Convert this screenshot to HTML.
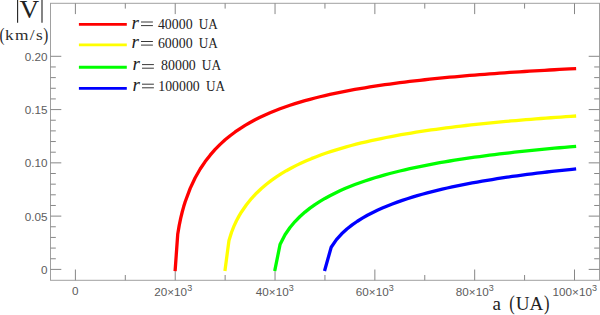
<!DOCTYPE html>
<html><head><meta charset="utf-8">
<style>
html,body{margin:0;padding:0;background:#fff;}
body{width:600px;height:315px;overflow:hidden;position:relative;}
svg{position:absolute;left:0;top:0;display:block;}
.sans{font-family:"Liberation Sans",sans-serif;font-size:11.7px;fill:#5c5c5c;}
.serif{font-family:"Liberation Serif",serif;fill:#222;}
</style></head><body>
<svg width="600" height="315" viewBox="0 0 600 315">
<rect x="50.5" y="3.3" width="549.0" height="277.0" fill="none" stroke="#a0a0a0" stroke-width="1"/>
<path d="M75.40 280.3 v-10.8 M75.40 3.3 v10.8 M125.31 280.3 v-5.3 M125.31 3.3 v5.3 M175.22 280.3 v-10.8 M175.22 3.3 v10.8 M225.13 280.3 v-5.3 M225.13 3.3 v5.3 M275.04 280.3 v-10.8 M275.04 3.3 v10.8 M324.95 280.3 v-5.3 M324.95 3.3 v5.3 M374.86 280.3 v-10.8 M374.86 3.3 v10.8 M424.77 280.3 v-5.3 M424.77 3.3 v5.3 M474.68 280.3 v-10.8 M474.68 3.3 v10.8 M524.59 280.3 v-5.3 M524.59 3.3 v5.3 M574.50 280.3 v-10.8 M574.50 3.3 v10.8 M50.5 269.40 h10.8 M599.5 269.40 h-10.8 M50.5 258.75 h5.3 M599.5 258.75 h-5.3 M50.5 248.09 h5.3 M599.5 248.09 h-5.3 M50.5 237.43 h5.3 M599.5 237.43 h-5.3 M50.5 226.78 h5.3 M599.5 226.78 h-5.3 M50.5 216.12 h10.8 M599.5 216.12 h-10.8 M50.5 205.47 h5.3 M599.5 205.47 h-5.3 M50.5 194.81 h5.3 M599.5 194.81 h-5.3 M50.5 184.16 h5.3 M599.5 184.16 h-5.3 M50.5 173.50 h5.3 M599.5 173.50 h-5.3 M50.5 162.85 h10.8 M599.5 162.85 h-10.8 M50.5 152.19 h5.3 M599.5 152.19 h-5.3 M50.5 141.54 h5.3 M599.5 141.54 h-5.3 M50.5 130.88 h5.3 M599.5 130.88 h-5.3 M50.5 120.23 h5.3 M599.5 120.23 h-5.3 M50.5 109.58 h10.8 M599.5 109.58 h-10.8 M50.5 98.92 h5.3 M599.5 98.92 h-5.3 M50.5 88.27 h5.3 M599.5 88.27 h-5.3 M50.5 77.61 h5.3 M599.5 77.61 h-5.3 M50.5 66.96 h5.3 M599.5 66.96 h-5.3 M50.5 56.30 h10.8 M599.5 56.30 h-10.8" stroke="#878787" stroke-width="1" fill="none"/>
<g fill="none" stroke-width="3.3" stroke-linejoin="round" stroke-linecap="square">
<path d="M175.22 269.40 L177.72 234.35 L179.21 225.39 L180.71 218.16 L182.21 212.00 L183.70 206.59 L185.20 201.74 L190.19 188.36 L195.18 177.79 L200.18 169.04 L205.17 161.60 L210.16 155.14 L215.15 149.45 L220.14 144.39 L225.13 139.84 L230.12 135.73 L235.11 131.98 L240.10 128.56 L245.09 125.40 L250.09 122.50 L255.08 119.80 L260.07 117.29 L265.06 114.96 L270.05 112.77 L275.04 110.72 L280.03 108.80 L285.02 106.99 L290.01 105.28 L295.00 103.67 L300.00 102.14 L304.99 100.69 L309.98 99.32 L314.97 98.01 L319.96 96.77 L324.95 95.58 L329.94 94.45 L334.93 93.37 L339.92 92.33 L344.91 91.34 L349.91 90.39 L354.90 89.48 L359.89 88.60 L364.88 87.76 L369.87 86.96 L374.86 86.18 L379.85 85.43 L384.84 84.71 L389.83 84.01 L394.82 83.34 L399.82 82.69 L404.81 82.06 L409.80 81.45 L414.79 80.87 L419.78 80.30 L424.77 79.75 L429.76 79.21 L434.75 78.70 L439.74 78.19 L444.73 77.71 L449.73 77.23 L454.72 76.78 L459.71 76.33 L464.70 75.90 L469.69 75.47 L474.68 75.06 L479.67 74.66 L484.66 74.27 L489.65 73.90 L494.64 73.53 L499.64 73.17 L504.63 72.82 L509.62 72.47 L514.61 72.14 L519.60 71.81 L524.59 71.50 L529.58 71.19 L534.57 70.88 L539.56 70.59 L544.55 70.30 L549.55 70.01 L554.54 69.74 L559.53 69.47 L564.52 69.20 L569.51 68.94 L574.50 68.69" stroke="#ff0000"/>
<path d="M225.13 269.40 L228.97 240.42 L231.47 232.48 L233.96 226.15 L236.46 220.80 L238.96 216.13 L241.45 211.96 L246.44 204.73 L251.43 198.58 L256.42 193.22 L261.41 188.48 L266.41 184.23 L271.40 180.38 L276.39 176.87 L281.38 173.65 L286.37 170.68 L291.36 167.93 L296.35 165.38 L301.34 162.99 L306.33 160.75 L311.32 158.65 L316.32 156.68 L321.31 154.81 L326.30 153.05 L331.29 151.39 L336.28 149.81 L341.27 148.30 L346.26 146.87 L351.25 145.51 L356.24 144.21 L361.23 142.97 L366.23 141.78 L371.22 140.64 L376.21 139.55 L381.20 138.51 L386.19 137.50 L391.18 136.54 L396.17 135.61 L401.16 134.71 L406.15 133.85 L411.14 133.02 L416.14 132.22 L421.13 131.45 L426.12 130.70 L431.11 129.97 L436.10 129.27 L441.09 128.60 L446.08 127.94 L451.07 127.31 L456.06 126.69 L461.05 126.09 L466.05 125.51 L471.04 124.95 L476.03 124.40 L481.02 123.87 L486.01 123.36 L491.00 122.85 L495.99 122.36 L500.98 121.89 L505.97 121.43 L510.96 120.97 L515.96 120.53 L520.95 120.11 L525.94 119.69 L530.93 119.28 L535.92 118.88 L540.91 118.49 L545.90 118.11 L550.89 117.74 L555.88 117.38 L560.87 117.03 L565.87 116.68 L570.86 116.35 L574.50 116.10" stroke="#ffff00"/>
<path d="M275.04 269.40 L280.03 244.62 L285.02 234.77 L290.01 227.49 L295.00 221.56 L300.00 216.51 L304.99 212.09 L309.98 208.16 L314.97 204.62 L319.96 201.40 L324.95 198.44 L329.94 195.71 L334.93 193.17 L339.92 190.81 L344.91 188.61 L349.91 186.53 L354.90 184.58 L359.89 182.74 L364.88 181.00 L369.87 179.35 L374.86 177.79 L379.85 176.30 L384.84 174.88 L389.83 173.53 L394.82 172.23 L399.82 170.99 L404.81 169.81 L409.80 168.67 L414.79 167.58 L419.78 166.53 L424.77 165.52 L429.76 164.55 L434.75 163.62 L439.74 162.71 L444.73 161.84 L449.73 161.00 L454.72 160.19 L459.71 159.41 L464.70 158.65 L469.69 157.91 L474.68 157.20 L479.67 156.51 L484.66 155.84 L489.65 155.19 L494.64 154.56 L499.64 153.95 L504.63 153.35 L509.62 152.77 L514.61 152.21 L519.60 151.66 L524.59 151.13 L529.58 150.61 L534.57 150.11 L539.56 149.61 L544.55 149.13 L549.55 148.67 L554.54 148.21 L559.53 147.76 L564.52 147.33 L569.51 146.91 L574.50 146.49" stroke="#00ff00"/>
<path d="M324.95 269.40 L331.19 247.24 L336.43 239.64 L341.67 233.84 L346.91 229.04 L352.15 224.91 L357.39 221.26 L362.38 218.14 L367.37 215.30 L372.36 212.69 L377.36 210.27 L382.35 208.03 L387.34 205.93 L392.33 203.96 L397.32 202.11 L402.31 200.36 L407.30 198.71 L412.29 197.14 L417.28 195.64 L422.27 194.22 L427.27 192.87 L432.26 191.57 L437.25 190.34 L442.24 189.15 L447.23 188.01 L452.22 186.92 L457.21 185.87 L462.20 184.86 L467.19 183.88 L472.18 182.95 L477.18 182.04 L482.17 181.17 L487.16 180.32 L492.15 179.51 L497.14 178.71 L502.13 177.95 L507.12 177.21 L512.11 176.49 L517.10 175.79 L522.09 175.12 L527.09 174.46 L532.08 173.82 L537.07 173.20 L542.06 172.60 L547.05 172.01 L552.04 171.44 L557.03 170.88 L562.02 170.34 L567.01 169.81 L572.00 169.30 L574.50 169.04" stroke="#0000ff"/>
</g>
<g class="serif">
<path d="M78.9 24.4 H126.8" stroke="#ff0000" stroke-width="2.9" fill="none"/>
<text x="131.6" y="29.0" font-size="19" font-style="italic">r</text>
<path d="M141.0 22.00 h11.9 M141.0 25.60 h11.9" stroke="#222" stroke-width="0.9" fill="none"/>
<text x="157.9" y="28.9" font-size="14.3" textLength="34.699999999999996" lengthAdjust="spacingAndGlyphs">40000</text>
<text x="198.8" y="28.9" font-size="14.3" textLength="19.0" lengthAdjust="spacingAndGlyphs">UA</text>
<path d="M78.9 44.9 H126.8" stroke="#ffff00" stroke-width="2.9" fill="none"/>
<text x="131.6" y="48.4" font-size="19" font-style="italic">r</text>
<path d="M141.0 41.50 h11.9 M141.0 45.10 h11.9" stroke="#222" stroke-width="0.9" fill="none"/>
<text x="157.9" y="48.4" font-size="14.3" textLength="34.699999999999996" lengthAdjust="spacingAndGlyphs">60000</text>
<text x="198.8" y="48.4" font-size="14.3" textLength="19.0" lengthAdjust="spacingAndGlyphs">UA</text>
<path d="M78.9 67.3 H126.8" stroke="#00ff00" stroke-width="2.9" fill="none"/>
<text x="132.5" y="70.3" font-size="19" font-style="italic">r</text>
<path d="M142.0 64.60 h11.9 M142.0 68.20 h11.9" stroke="#222" stroke-width="0.9" fill="none"/>
<text x="161.10000000000002" y="70.3" font-size="14.3" textLength="34.699999999999996" lengthAdjust="spacingAndGlyphs">80000</text>
<text x="201.8" y="70.3" font-size="14.3" textLength="19.299999999999997" lengthAdjust="spacingAndGlyphs">UA</text>
<path d="M78.9 88.4 H126.8" stroke="#0000ff" stroke-width="2.9" fill="none"/>
<text x="132.5" y="90.6" font-size="19" font-style="italic">r</text>
<path d="M142.0 84.20 h11.9 M142.0 87.80 h11.9" stroke="#222" stroke-width="0.9" fill="none"/>
<text x="158.3" y="90.6" font-size="14.3" textLength="41.4" lengthAdjust="spacingAndGlyphs">100000</text>
<text x="206.0" y="90.6" font-size="14.3" textLength="19.0" lengthAdjust="spacingAndGlyphs">UA</text>
<path d="M17.6 0 V22.8 M42 0 V22.8" stroke="#222" stroke-width="1.1" fill="none"/>
<text x="19.5" y="17.6" font-size="25" textLength="19.6" lengthAdjust="spacingAndGlyphs">V</text>
<text x="-0.4" y="41.2" font-size="18.2" textLength="5" lengthAdjust="spacingAndGlyphs">(</text>
<g transform="translate(5.0,40.2) scale(1.12,1)"><text x="0" y="0" font-size="15.5" textLength="33.7" lengthAdjust="spacing" fill="#2e2e2e">km/s</text></g>
<text x="43.3" y="41.2" font-size="18.2" textLength="5" lengthAdjust="spacingAndGlyphs">)</text>
<text x="492.5" y="309.5" font-size="19">a</text>
<text x="509.3" y="309.7" font-size="21" textLength="5.5" lengthAdjust="spacingAndGlyphs">(</text>
<text x="515.7" y="309.5" font-size="18.5" textLength="27.6" lengthAdjust="spacingAndGlyphs">UA</text>
<text x="544.0" y="309.7" font-size="21" textLength="5.5" lengthAdjust="spacingAndGlyphs">)</text>
</g>
<g class="sans">
<text x="75.2" y="294.5" text-anchor="middle">0</text>
<text x="173.2" y="296.1" text-anchor="middle">20×10<tspan font-size="9" dx="0.1" dy="-4.7">3</tspan></text>
<text x="274.8" y="296.1" text-anchor="middle">40×10<tspan font-size="9" dx="0.1" dy="-4.7">3</tspan></text>
<text x="374.8" y="296.1" text-anchor="middle">60×10<tspan font-size="9" dx="0.1" dy="-4.7">3</tspan></text>
<text x="474.8" y="296.1" text-anchor="middle">80×10<tspan font-size="9" dx="0.1" dy="-4.7">3</tspan></text>
<text x="574.8" y="296.1" text-anchor="middle">100×10<tspan font-size="9" dx="0.1" dy="-4.7">3</tspan></text>
<text x="47.4" y="274.0" text-anchor="end">0</text>
<text x="47.4" y="220.7" text-anchor="end">0.05</text>
<text x="47.4" y="167.4" text-anchor="end">0.10</text>
<text x="47.4" y="114.2" text-anchor="end">0.15</text>
<text x="47.4" y="60.9" text-anchor="end">0.20</text>
</g>
</svg>
</body></html>
